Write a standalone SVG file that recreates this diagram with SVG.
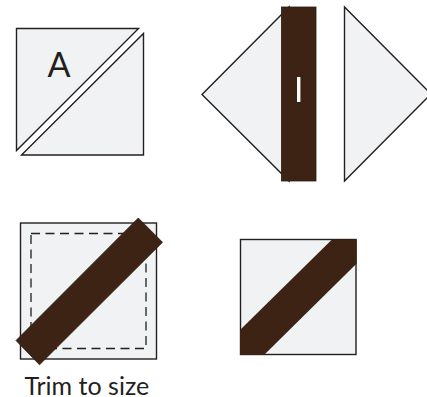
<svg xmlns="http://www.w3.org/2000/svg" width="427" height="397" viewBox="0 0 427 397">
<style>
.p{fill:#f1f2f4;stroke:#231f20;stroke-width:1.4}
.s{fill:#3c2314;stroke:#2b1a10;stroke-width:.8}
text{font-family:Lato,"Noto Sans","Liberation Sans",sans-serif}
</style>
<rect width="427" height="397" fill="#fff"/>
<g id="half-square-a">
<polygon class="p" points="16.5,28.5 138.5,28.5 16.5,150.5"/>
<polygon class="p" points="143.5,33.5 143.5,155 21.5,155"/>
<text x="47.5" y="77" font-size="34" fill="#231f20">A</text>
</g>
<g id="triangles-strip">
<polygon class="p" points="202,94.5 289,7 289,181"/>
<polygon class="p" points="344.5,7 344.5,181 431,94"/>
<rect class="s" x="281.5" y="7" width="34.5" height="174"/>
<rect x="297" y="77" width="3.4" height="25" fill="#fff"/>
</g>
<g id="trim-block">
<rect class="p" x="20.5" y="223" width="136" height="136"/>
<rect x="31" y="233.5" width="115" height="115" fill="none" stroke="#231f20" stroke-width="1.3" stroke-dasharray="9 5.5"/>
<polygon class="s" points="138.3,218 162.5,242.3 39.5,364.8 16,340.5"/>
<text x="24.5" y="394.5" font-size="25" fill="#231f20">Trim to size</text>
</g>
<g id="finished-block">
<rect class="p" x="240.5" y="239.5" width="115.5" height="115"/>
<polygon fill="#3c2314" points="332,239.5 356.7,239.5 356.7,263.5 264,355 240,355 240,330"/>
</g>
<g id="connectors"/>
</svg>
